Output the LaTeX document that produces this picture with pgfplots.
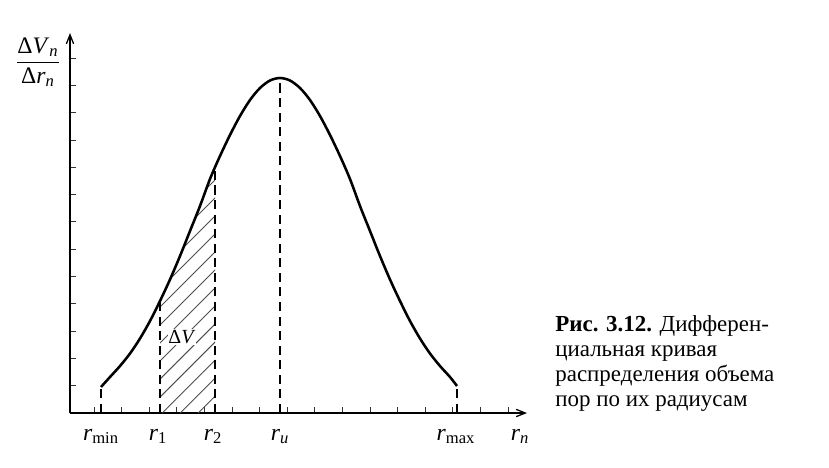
\documentclass[border=0pt]{standalone}
\usepackage{fontspec}
\setmainfont{Liberation Serif}
\usepackage{pgfplots}
\pgfplotsset{compat=1.18}
\usetikzlibrary{arrows.meta,patterns.meta}
\usepgfplotslibrary{fillbetween}

\begin{document}
\begin{tikzpicture}[x=0.0193cm,y=0.0193cm]
\begin{axis}[
    x=0.0193cm, y=0.0193cm,
    anchor=origin, at={(0,0)},
    axis lines=left,
    axis line style={line width=0.7pt, -{Straight Barb[length=5pt,width=4pt]}},
    xmin=0, xmax=457, ymin=0, ymax=380,
    xtick={24,51.6,79.2,106.8,134.4,162,189.6,217.2,244.8,272.4,300,327.6,355.2,382.8,410.4,438},
    ytick={27.3,54.6,81.9,109.2,136.5,163.8,191.1,218.4,245.7,273,300.3,327.6,354.9},
    xticklabels={}, yticklabels={},
    tick align=inside,
    major tick length=3.5pt,
    tick style={black!80, line width=0.5pt},
    clip=false,
]
% curve
\addplot[name path=curve, black, line width=1.4pt, smooth] coordinates {
    (31,26) (40,36) (50,47) (60,59.5) (70,74.5) (80,92) (90,112) (100,133.5)
    (110,157) (120,182) (130,207) (140,234) (150,257) (160,278) (170,297)
    (180,313) (190,325) (200,332.5) (210,335) (220,332.5) (230,325) (240,313)
    (250,297) (260,278) (270,257) (280,234) (290,207) (300,182) (310,157)
    (320,133.5) (330,112) (340,92) (350,74.5) (360,59.5) (370,47) (380,36) (387,27)
};
\addplot[name path=base, draw=none] coordinates {(0,0) (457,0)};
% hatched area
\addplot[pattern={Lines[angle=45,distance=7pt,line width=0.5pt]}, pattern color=black!70, draw=none]
    fill between[of=curve and base, soft clip={domain=90:145}];
% dashed verticals
\addplot[black, line width=0.6pt, dash pattern=on 5pt off 3pt] coordinates {(31,0) (31,26)};
\addplot[black, line width=0.6pt, dash pattern=on 5pt off 3pt] coordinates {(90,0) (90,112)};
\addplot[black, line width=0.6pt, dash pattern=on 5pt off 3pt] coordinates {(145,0) (145,246)};
\addplot[black, line width=0.6pt, dash pattern=on 5pt off 3pt] coordinates {(210,0) (210,335)};
\addplot[black, line width=0.6pt, dash pattern=on 5pt off 3pt] coordinates {(387,0) (387,27)};
% labels
\node[font=\fontsize{13}{13}\selectfont] at (axis cs:-32,351)
    {$\displaystyle\frac{\mbox{Δ\textit{V}\textsubscript{\textit{п}}}}{\mbox{Δ\textit{r}\textsubscript{\textit{п}}}}$};
\node[font=\fontsize{13}{13}\selectfont, anchor=base] at (axis cs:31,-27) {\textit{r}\textsubscript{min}};
\node[font=\fontsize{13}{13}\selectfont, anchor=base] at (axis cs:88,-27) {\textit{r}\textsubscript{1}};
\node[font=\fontsize{13}{13}\selectfont, anchor=base] at (axis cs:143,-27) {\textit{r}\textsubscript{2}};
\node[font=\fontsize{13}{13}\selectfont, anchor=base] at (axis cs:210,-27) {\textit{r}\textsubscript{\textit{и}}};
\node[font=\fontsize{13}{13}\selectfont, anchor=base] at (axis cs:386,-27) {\textit{r}\textsubscript{max}};
\node[font=\fontsize{13}{13}\selectfont, anchor=base] at (axis cs:450,-27) {\textit{r}\textsubscript{\textit{п}}};
\node[font=\fontsize{11}{11}\selectfont, fill=white, inner sep=0.5pt] at (axis cs:112,76) {Δ\textit{V}};
\node[font=\fontsize{12.6}{13.7}\selectfont, anchor=north west, align=left, inner sep=0pt] at (axis cs:485,98)
    {\textbf{Рис. 3.12.} Дифферен-\\циальная кривая\\распределения объема\\пор по их радиусам};
\end{axis}
\path (-70,-54) rectangle (759,413);
\end{tikzpicture}
\end{document}
